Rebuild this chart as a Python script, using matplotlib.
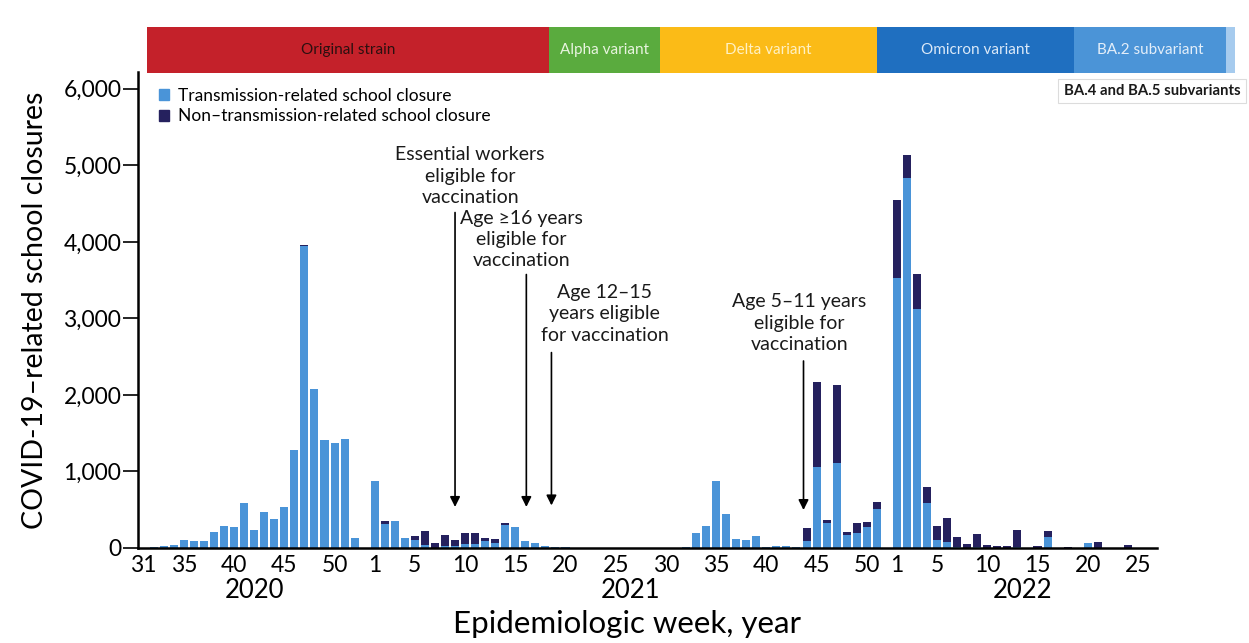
import numpy as np
import matplotlib
matplotlib.use("Agg")
import matplotlib.pyplot as plt
from matplotlib.patches import Patch, Rectangle
from matplotlib.ticker import FuncFormatter

plt.rcParams['font.family'] = ['Lato', 'DejaVu Sans']

# epidemiologic weeks shown on the x axis
weeks_2020 = list(range(31, 54))
weeks_2021 = list(range(1, 53))
weeks_2022 = list(range(1, 27))

# transmission-related closures per week
trans_2020 = [5, 10, 30, 45, 110, 95, 87, 210, 283, 275, 590, 240, 466, 383, 536,
              1285, 3950, 2078, 1407, 1372, 1430, 130, 0]
trans_2021 = [880, 310, 355, 130, 105, 35, 5, 20, 20, 50, 50, 85, 65, 305, 270, 95,
              70, 25, 15, 8, 0, 0, 0, 0, 0, 0, 0, 0, 0, 0, 0, 10, 196, 283, 871, 449,
              118, 110, 153, 15, 20, 20, 15, 87, 1055, 330, 1111, 175, 196, 275, 514, 0]
trans_2022 = [3529, 4837, 3124, 588, 109, 74, 9, 5, 10, 4, 2, 2, 10, 0, 0, 139,
              0, 0, 0, 65, 5, 0, 0, 0, 0, 0]

# non-transmission-related closures per week
non_2020 = [0] * 16 + [15] + [0] * 6
non_2021 = [0, 40, 0, 0, 55, 190, 55, 150, 85, 150, 150, 45, 50, 20, 10, 0,
            0, 0, 0, 0, 0, 0, 0, 0, 0, 0, 0, 0, 0, 0, 0, 0, 0, 0, 0, 0,
            0, 0, 0, 0, 0, 0, 0, 175, 1110, 30, 1024, 30, 131, 65, 83, 0]
non_2022 = [1024, 296, 462, 209, 183, 318, 130, 52, 177, 40, 20, 20, 230, 0, 30, 88,
            0, 13, 0, 0, 73, 0, 0, 44, 0, 0]

tick_weeks = {2020: [31, 35, 40, 45, 50],
              2021: [1, 5, 10, 15, 20, 25, 30, 35, 40, 45, 50],
              2022: [1, 5, 10, 15, 20, 25]}

# variant periods, start/end in week-index units along the x axis
variant_names = ["Original strain", "Alpha variant", "Delta variant",
                 "Omicron variant", "BA.2 subvariant", ""]
variant_starts = [0.3, 40.4, 51.4, 73.0, 92.6, 107.8]
variant_ends = [40.4, 51.4, 73.0, 92.6, 107.8, 108.7]
variant_colors = ["#c4212a", "#5aab3e", "#fbbb17", "#1f6fc0", "#4b94d7", "#a6cbee"]
variant_text = ["#2b1010", "#e8f4df", "#fff1c4", "#dbe9f8", "#e3eef9", "white"]

# vaccination eligibility milestones (week index, arrow top, arrow tip)
milestones = ["Essential workers\neligible for\nvaccination",
              "Age \u226516 years\neligible for\nvaccination",
              "Age 12\u201315\nyears eligible\nfor vaccination",
              "Age 5\u201311 years\neligible for\nvaccination"]
arrow_x = [31.0, 38.1, 40.6, 65.7]
arrow_top = [4420, 3610, 2590, 2480]
arrow_tip = [500, 500, 520, 460]
label_x = [32.5, 37.6, 45.9, 65.3]
label_y = [4860, 4030, 3060, 2940]

LIGHT = "#4a94d8"
DARK = "#25215e"

years = [2020] * len(weeks_2020) + [2021] * len(weeks_2021) + [2022] * len(weeks_2022)
weeks = weeks_2020 + weeks_2021 + weeks_2022
trans = np.array(trans_2020 + trans_2021 + trans_2022)
non = np.array(non_2020 + non_2021 + non_2022)
idx = np.arange(len(weeks))

fig = plt.figure(figsize=(12.49, 6.43), dpi=100)
ax = fig.add_axes([138 / 1249, 95 / 643, 1019 / 1249, 476 / 643])

ax.bar(idx, trans, width=0.8, color=LIGHT, linewidth=0)
ax.bar(idx, non, width=0.8, bottom=trans, color=DARK, linewidth=0)

ax.set_xlim(-0.57, 100.9)
ax.set_ylim(0, 6220)
ax.set_yticks(range(0, 7000, 1000))
ax.yaxis.set_major_formatter(FuncFormatter(lambda v, p: f"{int(v):,}"))

tpos, tlab = [], []
for i, (y, w) in enumerate(zip(years, weeks)):
    if w in tick_weeks[y]:
        tpos.append(i)
        tlab.append(str(w))
ax.set_xticks(tpos)
ax.set_xticklabels(tlab)
ax.tick_params(axis='x', length=0, pad=5, labelsize=16.5)
ax.tick_params(axis='y', length=11, width=1.2, pad=1, labelsize=16.5)

for s in ['top', 'right']:
    ax.spines[s].set_visible(False)
for s in ['left', 'bottom']:
    ax.spines[s].set_linewidth(1.8)

for yr in (2020, 2021, 2022):
    centre = np.mean([i for i, y in enumerate(years) if y == yr])
    ax.text(centre, -0.089, str(yr), transform=ax.get_xaxis_transform(),
            ha='center', va='center', fontsize=18.5)

ax.set_xlabel("Epidemiologic week, year", fontsize=22.5)
ax.xaxis.set_label_coords(0.48, -0.16)
ax.xaxis.label.set_va('center')
ax.set_ylabel("COVID-19\u2013related school closures", fontsize=20.5)
ax.yaxis.set_label_coords(-0.101, 0.5)
ax.yaxis.label.set_va('center')

# variant strip above the plot
trans_strip = ax.get_xaxis_transform()
for name, x0, x1, c, tc in zip(variant_names, variant_starts, variant_ends,
                               variant_colors, variant_text):
    ax.add_patch(Rectangle((x0, 0.998), x1 - x0, 0.097, transform=trans_strip,
                           facecolor=c, edgecolor='none', clip_on=False))
    if name:
        ax.text((x0 + x1) / 2, 1.046, name, transform=trans_strip, ha='center',
                va='center', fontsize=11, color=tc, clip_on=False)

fig.text(1152 / 1249, 1 - 91 / 643, "BA.4 and BA.5 subvariants", ha='center',
         va='center', fontsize=10.7, fontweight='bold', color='#1a1a1a',
         bbox=dict(boxstyle='square,pad=0.35', fc='white', ec='#dcdcdc', lw=0.8))

for text, x, yt, yh, lx, ly in zip(milestones, arrow_x, arrow_top, arrow_tip,
                                   label_x, label_y):
    ax.annotate('', xy=(x, yh), xytext=(x, yt),
                arrowprops=dict(arrowstyle='-|>', color='black', lw=1.2,
                                mutation_scale=15))
    ax.text(lx, ly, text, ha='center', va='center', fontsize=14,
            linespacing=1.3, color='#1a1a1a')

handles = [Patch(color=LIGHT), Patch(color=DARK)]
ax.legend(handles, ["Transmission-related school closure",
                    "Non\u2013transmission-related school closure"],
          loc='upper left', bbox_to_anchor=(0.012, 0.985), frameon=False,
          handlelength=0.6, handleheight=0.6, handletextpad=0.5,
          labelspacing=0.25, borderpad=0, fontsize=12.5)

fig.savefig("out.png", dpi=100)
